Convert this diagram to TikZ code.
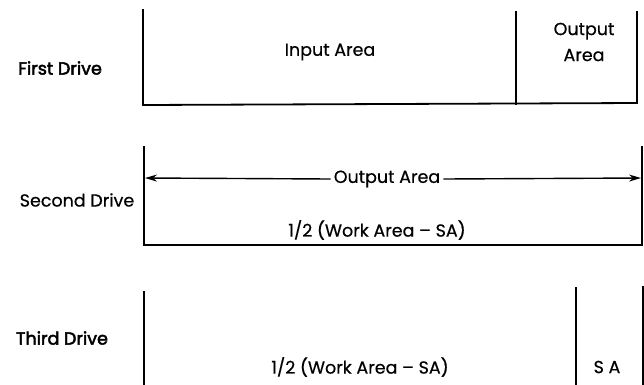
\documentclass[tikz,border=0pt]{standalone}
\usepackage{fontspec}
\setmainfont{Poppins}[FakeBold=0.5]
\newfontfamily\drivefont[FakeBold=2.6]{Poppins}
\usetikzlibrary{arrows.meta}
\begin{document}
\begin{tikzpicture}[x=1pt,y=-1pt,
  edge/.style={line width=1.8pt,line cap=rect},
  lbl/.style={inner sep=0pt,font=\fontsize{17.5}{20}\selectfont},
  drivelbl/.style={inner sep=0pt,font=\fontsize{17.5}{20}\drivefont},
  dim/.style={line width=1.4pt,-{Stealth[length=12pt,width=7pt]}}]
\useasboundingbox (0,0) rectangle (644,384);

% first drive: input area and output area
\draw[edge] (143,10) -- (143,105) -- (637,103) -- (637,12);
\draw[edge] (516,12) -- (516,104);
\node[drivelbl] (d1) at (60,68) {First Drive};
\node[lbl] (in1) at (330,52) {Input Area};
\node[lbl,align=center,font=\fontsize{17.5}{26}\selectfont] (out1) at (584,42) {Output\\Area};

% second drive: output area across the whole work area
\draw[edge] (144,147) -- (144,245) -- (642,245) -- (642,147);
\coordinate (l2) at (145,178);
\coordinate (r2) at (641,178);
\node[lbl] (d2) at (77,200) {Second Drive};
\node[lbl,fill=white,inner xsep=3pt] (out2) at (387,179) {Output Area};
\node[lbl] (w2) at (377,230) {1/2 (Work Area -- SA)};
\draw[dim] (out2.west) -- (l2);
\draw[dim] (out2.east) -- (r2);

% third drive: work area and SA
\draw[edge] (144,292) -- (144,386);
\draw[edge] (576,288) -- (576,386);
\draw[edge] (643,287) -- (643,386);
\node[drivelbl] (d3) at (62,338) {Third Drive};
\node[lbl] (w3) at (360,367) {1/2 (Work Area -- SA)};
\node[lbl] (sa) at (607,367) {S A};
\end{tikzpicture}
\end{document}
